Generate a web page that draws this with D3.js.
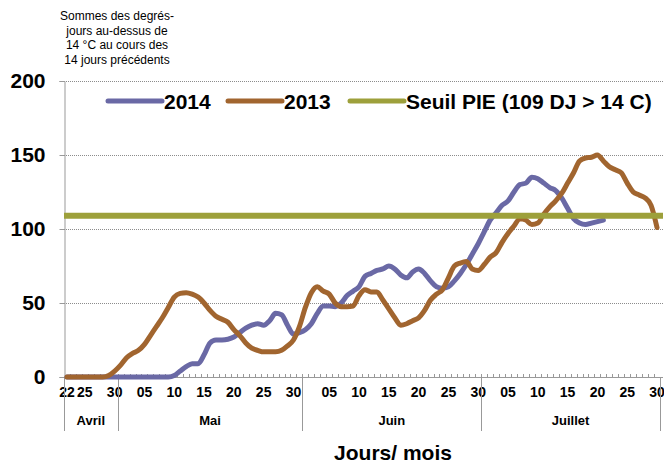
<!DOCTYPE html>
<html>
<head>
<meta charset="utf-8">
<script src="https://cdn.jsdelivr.net/npm/d3@7"></script>
<style>
  body { margin: 0; background: #fff; }
  svg { display: block; font-family: "Liberation Sans", Arial, sans-serif; }
</style>
</head>
<body>
<svg id="chart" width="664" height="465"></svg>
<script>
// months on the axis and the days of each that are shown
var monthNames = ['Avril', 'Mai', 'Juin', 'Juillet'];
var monthFirst = [22, 1, 1, 1];
var monthLast = [30, 31, 30, 30];

// degree-days over 14 °C, previous 14 days (one value per day from 22 Apr)
var values2014 = [0,0,0,0,0,0,0,0,0,0, 0,0,0,0,0,0,0,0,1,4,
  7,9,9,15,23,25,25,25.5,27,30, 33,35,36,35,38,43,42,35,29,30,
  32,36,43,48,48,47.5,50,55,58,61, 68,70,72,73,75,73,69,67,71,73,
  70,65,61,60,61,65,70,76,83,90, 98,106,111,116,119,125,130,131,135,134,
  131,128,126,121,114,107,104,103,104,105, 106];
var values2013 = [0,0,0,0,0,0,0,1,4,8, 13,16,18,22,28,34,40,47,54,56.5,
  57,56,54,50,45,41,39,37,32,28, 23,19.5,18,17,17,17,18,21,25,34,
  47,57,61,58,56,50,47.5,47.5,48,55, 59,57.5,57.5,52,46,40,35,36,38,40,
  45,52,56,59,67,75,77,78,73,72, 76,81,84,91,97,102,107,106,103,104,
  110,115,119,124,131,138,146,148,148.5,150, 146,142,140,138,131,125,123,121,116,101];
var seuil = 109;

var yTicks = [0, 50, 100, 150, 200];
var legendLabels = ['2014', '2013', 'Seuil PIE (109 DJ > 14 C)'];
var colors = ['#6a69a5', '#a1652f', '#9da03b'];

// build the day categories
var days = [];
monthNames.forEach(function (m, mi) {
  for (var d = monthFirst[mi]; d <= monthLast[mi]; d++) {
    days.push({ id: mi + '-' + d, month: mi, day: d });
  }
});

var svg = d3.select('#chart');
var plotL = 64, plotR = 660, plotT = 81, plotB = 377;

var x = d3.scaleBand().domain(days.map(function (d) { return d.id; })).range([plotL, plotR]);
var y = d3.scaleLinear().domain([0, 200]).range([plotB, plotT]);
var cx = function (i) { return x(days[i].id) + x.bandwidth() / 2; };

// grid
svg.append('g').selectAll('line')
  .data(yTicks.filter(function (t) { return t > 0; }))
  .enter().append('line')
    .attr('x1', plotL).attr('x2', 663)
    .attr('y1', function (d) { return y(d) + 0.5; })
    .attr('y2', function (d) { return y(d) + 0.5; })
    .attr('stroke', '#8c8c8c')
    .attr('stroke-width', 1)
    .attr('stroke-dasharray', '1,1');

// y axis
var yAxis = d3.axisLeft(y).tickValues(yTicks).tickSize(5).tickPadding(14);
var gy = svg.append('g').attr('transform', 'translate(' + (plotL + 0.5) + ',0)').call(yAxis);
gy.select('.domain').attr('stroke', '#999');
gy.selectAll('.tick line').attr('stroke', '#999');
gy.selectAll('.tick text')
  .attr('font-size', '21px').attr('font-weight', 'bold').attr('fill', '#000')
  .attr('font-family', '"Liberation Sans", Arial, sans-serif');

// x axis baseline and day ticks
svg.append('line')
  .attr('x1', plotL).attr('x2', 663)
  .attr('y1', plotB + 0.5).attr('y2', plotB + 0.5)
  .attr('stroke', '#999');
svg.append('g').selectAll('line')
  .data(days.slice(1))
  .enter().append('line')
    .attr('x1', function (d) { return Math.round(x(d.id)) + 0.5; })
    .attr('x2', function (d) { return Math.round(x(d.id)) + 0.5; })
    .attr('y1', plotB - 3).attr('y2', plotB)
    .attr('stroke', '#999');

// day labels
svg.append('g').selectAll('text')
  .data(days.filter(function (d) { return d.day % 5 === 0 || (d.month === 0 && d.day === 22); }))
  .enter().append('text')
    .attr('x', function (d) { return x(d.id) + x.bandwidth() / 2; })
    .attr('y', 397)
    .attr('text-anchor', 'middle')
    .attr('font-size', '14px').attr('font-weight', 'bold')
    .text(function (d) { return d.day < 10 ? '0' + d.day : d.day; });

// month separators and labels
var bounds = monthNames.map(function (m, mi) {
  var ds = days.filter(function (d) { return d.month === mi; });
  return { name: m, x0: x(ds[0].id), x1: x(ds[ds.length - 1].id) + x.bandwidth() };
});
svg.append('g').selectAll('line')
  .data([bounds[0].x0].concat(bounds.map(function (b) { return b.x1; })))
  .enter().append('line')
    .attr('x1', function (d) { return Math.round(d) + 0.5; })
    .attr('x2', function (d) { return Math.round(d) + 0.5; })
    .attr('y1', plotB).attr('y2', 431)
    .attr('stroke', '#999');
svg.append('g').selectAll('text')
  .data(bounds)
  .enter().append('text')
    .attr('x', function (d) { return (d.x0 + d.x1) / 2; })
    .attr('y', 425)
    .attr('text-anchor', 'middle')
    .attr('font-size', '13px').attr('font-weight', 'bold')
    .text(function (d) { return d.name; });

// series
var line = d3.line()
  .x(function (d, i) { return cx(i); })
  .y(function (d) { return y(d); })
  .curve(d3.curveMonotoneX);

svg.append('path').datum(values2014)
  .attr('d', line).attr('fill', 'none')
  .attr('stroke', colors[0]).attr('stroke-width', 5)
  .attr('stroke-linejoin', 'round').attr('stroke-linecap', 'round');
svg.append('path').datum(values2013)
  .attr('d', line).attr('fill', 'none')
  .attr('stroke', colors[1]).attr('stroke-width', 5)
  .attr('stroke-linejoin', 'round').attr('stroke-linecap', 'round');
svg.append('line')
  .attr('x1', plotL).attr('x2', 663)
  .attr('y1', y(seuil)).attr('y2', y(seuil))
  .attr('stroke', colors[2]).attr('stroke-width', 6);

// legend
var legX = [108, 228, 350];
var leg = svg.append('g').selectAll('g')
  .data(legendLabels)
  .enter().append('g')
    .attr('transform', function (d, i) { return 'translate(' + legX[i] + ',101)'; });
leg.append('line')
  .attr('x1', 0).attr('x2', 54)
  .attr('stroke', function (d, i) { return colors[i]; })
  .attr('stroke-width', 5).attr('stroke-linecap', 'round');
leg.append('text')
  .attr('x', 56).attr('y', 8)
  .attr('font-size', '21px').attr('font-weight', 'bold')
  .text(function (d) { return d; });

// titles
var yTitle = ['Sommes des degrés-', 'jours au-dessus de', '14 °C au cours des', '14 jours précédents'];
svg.append('g').selectAll('text')
  .data(yTitle)
  .enter().append('text')
    .attr('x', 117)
    .attr('y', function (d, i) { return 20 + i * 14.5; })
    .attr('text-anchor', 'middle')
    .attr('font-size', '12px')
    .text(function (d) { return d; });

svg.append('text')
  .attr('x', 393).attr('y', 460)
  .attr('text-anchor', 'middle')
  .attr('font-size', '21px').attr('font-weight', 'bold')
  .text('Jours/ mois');
</script>
</body>
</html>
